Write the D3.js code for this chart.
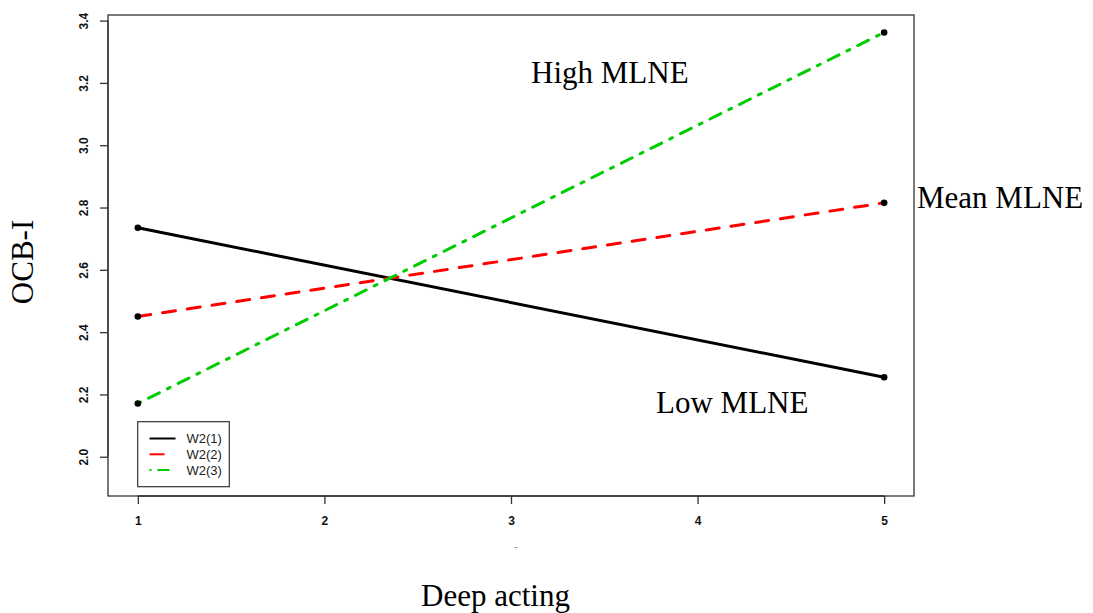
<!DOCTYPE html>
<html>
<head>
<meta charset="utf-8">
<script src="https://cdn.jsdelivr.net/npm/d3@7"></script>
<style>
  html, body { margin: 0; padding: 0; background: #fff; }
  svg { display: block; }
</style>
</head>
<body>
<svg id="chart" width="1093" height="613"></svg>
<script>
// Simple slopes of OCB-I on deep acting at three levels of MLNE
const xLevels = [1, 5];
const seriesNames = ["W2(1)", "W2(2)", "W2(3)"];
const lowMLNE = [2.735, 2.255];   // W2(1)
const meanMLNE = [2.450, 2.815];  // W2(2)
const highMLNE = [2.171, 3.362];  // W2(3)
const xTicks = [1, 2, 3, 4, 5];
const yTicks = [2.0, 2.2, 2.4, 2.6, 2.8, 3.0, 3.2, 3.4];
const groupLabels = ["Low MLNE", "Mean MLNE", "High MLNE"];

const series = [
  { name: seriesNames[0], values: lowMLNE, color: "#000000", dash: null, legendDash: null },
  { name: seriesNames[1], values: meanMLNE, color: "#ff0000", dash: "13 12", legendDash: "15 40" },
  { name: seriesNames[2], values: highMLNE, color: "#00cd00", dash: "3 9 12 9", legendDash: "2 6 12 40" }
];

const svg = d3.select("#chart");
const box = { left: 108, right: 914, top: 15, bottom: 496 };

const x = d3.scaleLinear().domain([0.84, 5.16]).range([box.left, box.right]);
const y = d3.scaleLinear().domain([1.874, 3.418]).range([box.bottom, box.top]);

// plot frame
svg.append("rect")
  .attr("x", box.left).attr("y", box.top)
  .attr("width", box.right - box.left).attr("height", box.bottom - box.top)
  .attr("fill", "none").attr("stroke", "#333").attr("stroke-width", 1.3);

const tickFont = "bold 12px 'Liberation Sans', Arial, Helvetica, sans-serif";

// x axis
const xAxis = svg.append("g")
  .attr("transform", `translate(0,${box.bottom})`)
  .call(d3.axisBottom(x).tickValues(xTicks).tickSize(8).tickPadding(0).tickFormat(d3.format("d")));
xAxis.select(".domain").remove();
xAxis.append("line")
  .attr("x1", x(xTicks[0])).attr("x2", x(xTicks[xTicks.length - 1]))
  .attr("y1", 0).attr("y2", 0).attr("stroke", "#333").attr("stroke-width", 1.3);
xAxis.selectAll(".tick line").attr("stroke", "#333").attr("stroke-width", 1.3);
xAxis.selectAll(".tick text")
  .attr("y", 28.5).attr("dy", null)
  .attr("fill", "#111")
  .style("font", tickFont);

// y axis with labels rotated parallel to the axis
const yAxis = svg.append("g")
  .attr("transform", `translate(${box.left},0)`)
  .call(d3.axisLeft(y).tickValues(yTicks).tickSize(8).tickFormat(d3.format(".1f")));
yAxis.select(".domain").remove();
yAxis.append("line")
  .attr("y1", y(yTicks[0])).attr("y2", y(yTicks[yTicks.length - 1]))
  .attr("x1", 0).attr("x2", 0).attr("stroke", "#333").attr("stroke-width", 1.3);
yAxis.selectAll(".tick line").attr("stroke", "#333").attr("stroke-width", 1.3);
yAxis.selectAll(".tick text")
  .attr("x", null).attr("dy", null)
  .attr("text-anchor", "middle")
  .attr("transform", "translate(-20,0) rotate(-90)")
  .attr("fill", "#111")
  .style("font", tickFont);

// axis titles
const serif = "'Liberation Serif', 'Times New Roman', Times, serif";
svg.append("text")
  .attr("transform", "translate(33,262) rotate(-90)")
  .attr("text-anchor", "middle")
  .style("font-family", serif).style("font-size", "31px")
  .attr("fill", "#000")
  .text("OCB-I");
svg.append("text")
  .attr("x", 421).attr("y", 606)
  .style("font-family", serif).style("font-size", "31px")
  .attr("fill", "#000")
  .text("Deep acting");
// small stray mark under the axis
svg.append("line")
  .attr("x1", 514.5).attr("x2", 517.5).attr("y1", 547.5).attr("y2", 547.5)
  .attr("stroke", "#999").attr("stroke-width", 1);

// slope lines
const line = d3.line().x((d, i) => x(xLevels[i])).y(d => y(d));
series.forEach(s => {
  svg.append("path")
    .datum(s.values)
    .attr("d", line)
    .attr("fill", "none")
    .attr("stroke", s.color)
    .attr("stroke-width", 3)
    .attr("stroke-linecap", "round")
    .attr("stroke-dasharray", s.dash);
});
// end points
series.forEach(s => {
  svg.selectAll(null)
    .data(s.values)
    .enter().append("circle")
    .attr("cx", (d, i) => x(xLevels[i]))
    .attr("cy", d => y(d))
    .attr("r", 3.3)
    .attr("fill", "#000");
});

// group annotations
const labelPos = [
  { x: 656, y: 413 },
  { x: 917, y: 208 },
  { x: 531, y: 83 }
];
groupLabels.forEach((t, i) => {
  svg.append("text")
    .attr("x", labelPos[i].x).attr("y", labelPos[i].y)
    .style("font-family", serif).style("font-size", "31px")
    .attr("fill", "#000")
    .text(t);
});

// legend
const lg = svg.append("g");
lg.append("rect")
  .attr("x", 137.7).attr("y", 421.7).attr("width", 91.6).attr("height", 65)
  .attr("fill", "#fff").attr("stroke", "#333").attr("stroke-width", 1.2);
series.forEach((s, i) => {
  const ry = 438.5 + i * 15.8;
  lg.append("line")
    .attr("x1", 149.5).attr("x2", 175.5).attr("y1", ry).attr("y2", ry)
    .attr("stroke", s.color).attr("stroke-width", 2)
    .attr("stroke-dasharray", s.legendDash);
  lg.append("text")
    .attr("x", 186.5).attr("y", ry + 4.8)
    .style("font-family", "'Liberation Sans', Arial, Helvetica, sans-serif")
    .style("font-size", "13px")
    .attr("fill", "#222")
    .text(s.name);
});
</script>
</body>
</html>
